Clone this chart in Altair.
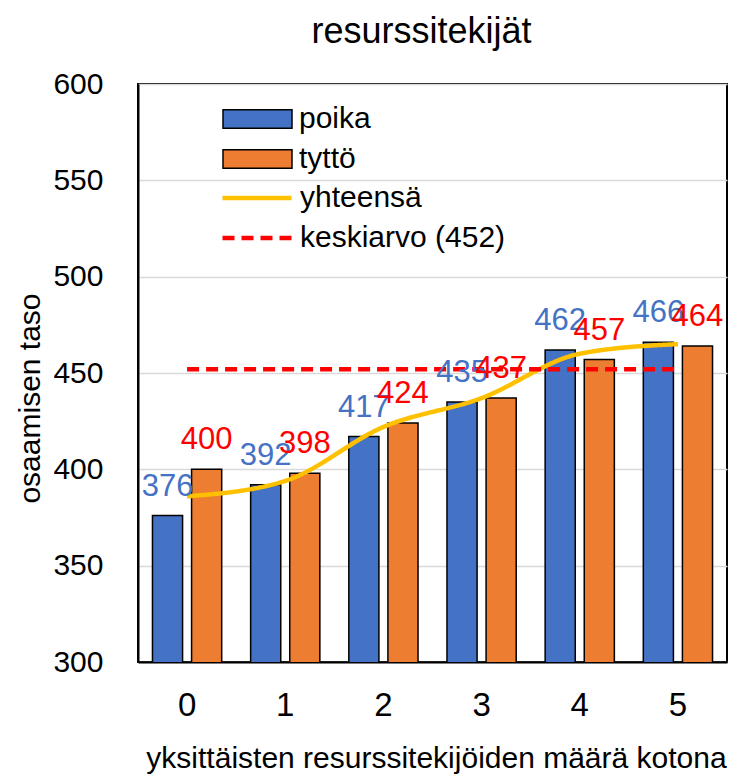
import altair as alt
import pandas as pd

kategoriat = ["0", "1", "2", "3", "4", "5"]
poika = [376, 392, 417, 435, 462, 466]
tytto = [400, 398, 424, 437, 457, 464]
yhteensa = [386, 394, 422, 437, 460, 465]
keskiarvo = 452
ryhmat = ["poika", "tyttö"]
sarjat = ["yhteensä", "keskiarvo (452)"]
y_ticks = [300, 350, 400, 450, 500, 550, 600]

FONT = "Liberation Sans"

bars_df = pd.DataFrame({
    "kat": kategoriat * 2,
    "ryhma": [ryhmat[0]] * 6 + [ryhmat[1]] * 6,
    "arvo": poika + tytto,
})
lines_df = pd.DataFrame({
    "kat": kategoriat * 2,
    "sarja": [sarjat[0]] * 6 + [sarjat[1]] * 6,
    "arvo": yhteensa + [keskiarvo] * 6,
})

x_enc = alt.X(
    "kat:N", sort=kategoriat,
    scale=alt.Scale(paddingInner=0, paddingOuter=0),
    axis=alt.Axis(labelAngle=0, ticks=False, tickSize=0, labelPadding=27,
                  labelFontSize=33, domainColor="black", domainWidth=2,
                  titleFontSize=30, titleFontWeight="normal",
                  titleBaseline="alphabetic", titleY=105, titleX=298,
                  titleAlign="center", grid=False),
    title="yksittäisten resurssitekijöiden määrä kotona",
)
y_enc = alt.Y(
    "arvo:Q",
    scale=alt.Scale(domain=[300, 600], nice=False, zero=False),
    axis=alt.Axis(values=y_ticks, ticks=False, tickSize=0, labelPadding=35,
                  labelFontSize=30, domainColor="black", domainWidth=2,
                  gridColor="#D9D9D9", gridWidth=1.3,
                  titleFontSize=30, titleFontWeight="normal",
                  titleX=-108, titleY=314, titleAngle=-90,
                  titleAlign="center", titleBaseline="middle"),
    title="osaamisen taso",
)
xoff = alt.XOffset("ryhma:N", sort=ryhmat,
                   scale=alt.Scale(paddingInner=0.23, paddingOuter=0.37))

leg_common = dict(title=None, orient="none", labelFontSize=30, labelOffset=6,
                  clipHeight=34, rowPadding=6, padding=0, labelLimit=400)

bars = alt.Chart(bars_df).mark_bar(stroke="black", strokeWidth=1.5, clip=True).encode(
    x=x_enc,
    xOffset=xoff,
    y=y_enc,
    fill=alt.Fill(
        "ryhma:N", sort=ryhmat,
        scale=alt.Scale(domain=ryhmat, range=["#4472C4", "#ED7D31"]),
        legend=alt.Legend(
            legendX=84, legendY=18,
            symbolType="M-1,-0.27H1V0.27H-1Z", symbolSize=4761,
            symbolStrokeColor="black", symbolStrokeWidth=1.5,
            symbolOpacity=1, **leg_common,
        ),
    ),
)

line_legend = alt.Legend(
    legendX=82, legendY=97,
    symbolType="stroke", symbolSize=4761, symbolStrokeWidth=4.5,
    **leg_common,
)

lines = alt.Chart(lines_df).mark_line(interpolate="monotone", strokeWidth=4.5).encode(
    x=alt.X("kat:N", sort=kategoriat),
    y=alt.Y("arvo:Q"),
    stroke=alt.Stroke(
        "sarja:N", sort=sarjat,
        scale=alt.Scale(domain=sarjat, range=["#FFC000", "#FF0000"]),
        legend=line_legend,
    ),
    strokeDash=alt.StrokeDash(
        "sarja:N", sort=sarjat,
        scale=alt.Scale(domain=sarjat, range=[[1, 0], [12, 7]]),
        legend=line_legend,
    ),
)

labels = alt.Chart(bars_df).mark_text(
    dy=-20, baseline="alphabetic", fontSize=31, font=FONT
).encode(
    x=alt.X("kat:N", sort=kategoriat),
    xOffset=xoff,
    y=alt.Y("arvo:Q"),
    text=alt.Text("arvo:Q"),
    color=alt.Color("ryhma:N", sort=ryhmat,
                    scale=alt.Scale(domain=ryhmat, range=["#4472C4", "#FF0000"]),
                    legend=None),
)

chart = alt.layer(bars, lines, labels).properties(
    width=589, height=578,
    title=alt.TitleParams("resurssitekijät", fontSize=36, font=FONT,
                          fontWeight="normal", offset=18, dx=-11,
                          color="black"),
    autosize=alt.AutoSizeParams(type="none"),
    padding={"left": 130, "top": 76, "right": 6, "bottom": 114},
).configure(
    font=FONT,
).configure_view(
    stroke="black", strokeWidth=2,
).configure_axis(
    labelFont=FONT, titleFont=FONT, labelColor="black", titleColor="black",
).configure_legend(
    labelFont=FONT, labelColor="black",
)

chart.save("out.html", embed_options={"renderer": "svg", "actions": False})
